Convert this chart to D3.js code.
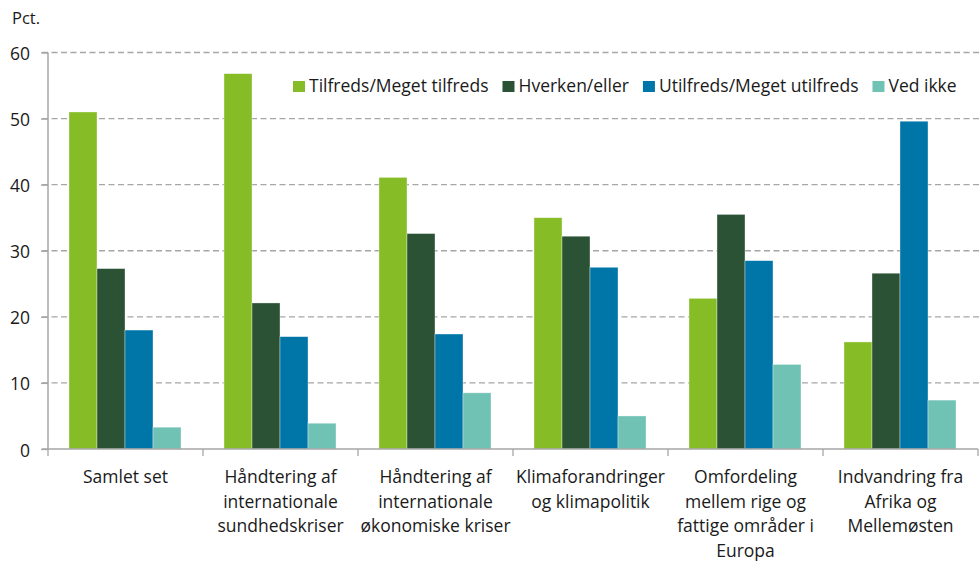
<!DOCTYPE html>
<html>
<head>
<meta charset="utf-8">
<script src="https://cdn.jsdelivr.net/npm/d3@7"></script>
<style>
  body { margin: 0; background: #fff; }
  text { font-family: "Open Sans", sans-serif; fill: #1a1a1a; }
</style>
</head>
<body>
<div id="body"></div>
<script>
// categories and series (pct.)
let categories = [
  "Samlet set",
  "Håndtering af internationale sundhedskriser",
  "Håndtering af internationale økonomiske kriser",
  "Klimaforandringer og klimapolitik",
  "Omfordeling mellem rige og fattige områder i Europa",
  "Indvandring fra Afrika og Mellemøsten"
];
// wrapped label lines as in the picture
let labelLines = [
  ["Samlet set"],
  ["Håndtering af", "internationale", "sundhedskriser"],
  ["Håndtering af", "internationale", "økonomiske kriser"],
  ["Klimaforandringer", "og klimapolitik"],
  ["Omfordeling", "mellem rige og", "fattige områder i", "Europa"],
  ["Indvandring fra", "Afrika og", "Mellemøsten"]
];
let seriesNames = ["Tilfreds/Meget tilfreds", "Hverken/eller", "Utilfreds/Meget utilfreds", "Ved ikke"];
let tilfreds = [51.0, 56.8, 41.1, 35.0, 22.8, 16.2];
let hverken = [27.3, 22.1, 32.6, 32.2, 35.5, 26.6];
let utilfreds = [18.0, 17.0, 17.4, 27.5, 28.5, 49.6];
let vedIkke = [3.3, 3.9, 8.5, 5.0, 12.8, 7.4];
let yTicks = [0, 10, 20, 30, 40, 50, 60];
let colors = ["#86bc25", "#2b5234", "#0075a8", "#6fc2b4"];

let width = 979,
  height = 562;
let plotLeft = 48, plotRight = 978, plotTop = 52.5, plotBottom = 449;
let fontSize = "17.5px";

let series = [tilfreds, hverken, utilfreds, vedIkke];
let data = categories.map((c, i) => ({
  cat: c,
  vals: series.map((s, j) => ({ key: seriesNames[j], v: s[i], j: j }))
}));

let svg = d3.select("#body").append("svg")
  .attr("width", width)
  .attr("height", height);

let x0 = d3.scaleBand().domain(categories).range([plotLeft, plotRight]).paddingInner(0).paddingOuter(0);
let x1 = d3.scaleBand().domain(seriesNames).range([21, x0.bandwidth() - 22]).padding(0);
let y = d3.scaleLinear().domain([0, 60]).range([plotBottom, plotTop]);

// gridlines
svg.append("g")
  .selectAll("line")
  .data(yTicks.filter(d => d > 0))
  .enter()
  .append("line")
  .attr("x1", 42)
  .attr("x2", width)
  .attr("y1", d => y(d))
  .attr("y2", d => y(d))
  .style("stroke", "#a6a6a6")
  .style("stroke-width", 1.3)
  .style("stroke-dasharray", "6,3.5");

// y axis
let yAxis = svg.append("g")
  .attr("transform", "translate(" + plotLeft + ",0)")
  .call(d3.axisLeft(y).tickValues(yTicks).tickSize(7).tickPadding(8).tickFormat(d3.format("d")));
yAxis.select(".domain").style("stroke", "#a6a6a6").style("stroke-width", 1.5).attr("d", "M0," + plotTop + "V" + plotBottom);
yAxis.selectAll(".tick line").style("stroke", "#a6a6a6").style("stroke-width", 1.3);
yAxis.selectAll(".tick text").style("font-size", fontSize).style("font-family", "'Open Sans', sans-serif").style("fill", "#1a1a1a").attr("x", -18).attr("dy", "0.4em");

// bars
let groups = svg.append("g")
  .selectAll("g")
  .data(data)
  .enter()
  .append("g")
  .attr("transform", d => "translate(" + x0(d.cat) + ",0)");

groups.selectAll("rect")
  .data(d => d.vals)
  .enter()
  .append("rect")
  .attr("x", d => x1(d.key))
  .attr("width", x1.bandwidth())
  .attr("y", d => y(d.v))
  .attr("height", d => y(0) - y(d.v))
  .style("fill", d => colors[d.j])
  .style("stroke", "rgba(255,255,255,0.5)")
  .style("stroke-width", 0.7);

// x axis
let xAxis = svg.append("g")
  .attr("transform", "translate(0," + plotBottom + ")");
xAxis.append("line")
  .attr("x1", 42).attr("x2", plotRight)
  .style("stroke", "#a6a6a6").style("stroke-width", 1.5);
xAxis.selectAll(".sep")
  .data(categories.concat(["end"]))
  .enter()
  .append("line")
  .attr("class", "sep")
  .attr("x1", (d, i) => plotLeft + i * x0.bandwidth())
  .attr("x2", (d, i) => plotLeft + i * x0.bandwidth())
  .attr("y1", 0).attr("y2", 7)
  .style("stroke", "#a6a6a6").style("stroke-width", 1.3);

// category labels
let labels = svg.append("g")
  .selectAll("text")
  .data(data)
  .enter()
  .append("text")
  .attr("text-anchor", "middle")
  .style("font-size", fontSize)
  .attr("transform", d => "translate(" + (x0(d.cat) + x0.bandwidth() / 2) + ",483)");
labels.selectAll("tspan")
  .data((d, i) => labelLines[i])
  .enter()
  .append("tspan")
  .attr("x", 0)
  .attr("y", (d, i) => i * 24.5)
  .text(d => d);

// unit
svg.append("text")
  .attr("x", 12)
  .attr("y", 24)
  .style("font-size", "16.5px")
  .text("Pct.");

// legend
let legend = svg.append("g");
let items = legend.selectAll("g")
  .data(seriesNames)
  .enter()
  .append("g");
items.append("rect")
  .attr("width", 12).attr("height", 11)
  .attr("y", -11)
  .style("fill", (d, i) => colors[i]);
items.append("text")
  .attr("x", 16)
  .attr("y", 0)
  .style("font-size", fontSize)
  .text(d => d);
let lx = 293;
items.each(function() {
  let g = d3.select(this);
  g.attr("transform", "translate(" + lx + ",92)");
  lx += 16 + g.select("text").node().getComputedTextLength() + 14;
});
</script>
</body>
</html>
